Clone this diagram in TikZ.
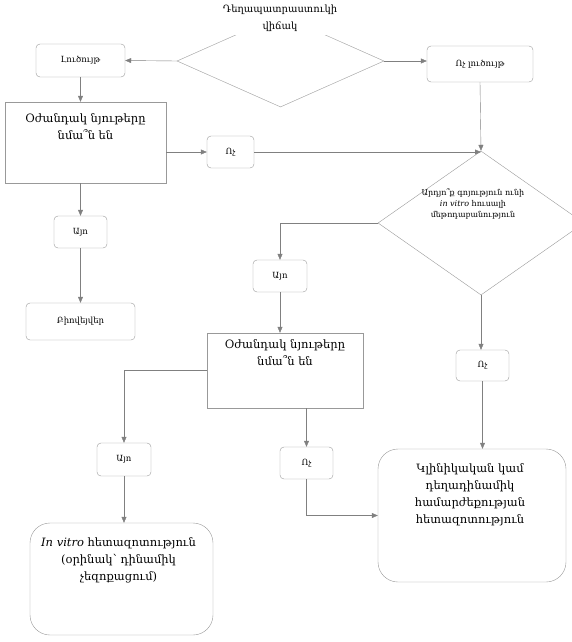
\documentclass[tikz,border=0pt]{standalone}
\usepackage{fontspec}
\setmainfont{DejaVu Serif}
\usetikzlibrary{shapes.geometric,arrows.meta}
\tikzset{
    box/.style={draw=black!40,rounded corners=4pt,font=\fontsize{8.5}{10}\selectfont},
    bigbox/.style={draw=black!40,rounded corners=20pt},
    square/.style={draw=black!40},
    choice/.style={draw=black!40,diamond,inner sep=0pt},
    toptext/.style={anchor=north,align=center,font=\fontsize{11.5}{17}\selectfont},
    flow/.style={draw=black!50,-{Triangle[length=6pt,width=5pt]}},
}

\begin{document}
\begin{tikzpicture}[x=1pt,y=-1pt]
            \useasboundingbox (0,0) rectangle (571,642);
            % first question
            \node[choice,minimum width=207pt,minimum height=92pt] (state) at (280.5,61) {};
            \node[fill=white,align=center,font=\fontsize{10}{17}\selectfont] (statetext) at (280,18) {Դեղապատրաստուկի\\վիճակ};
            \node[box,minimum width=89pt,minimum height=33pt] (sol) at (80.5,60.5) {Լուծույթ};
            \node[box,minimum width=106pt,minimum height=36pt] (nosol) at (480,64) {Ոչ լուծույթ};
            % solution branch
            \node[square,minimum width=161pt,minimum height=81pt,
                label={[toptext,yshift=-8pt]north:Օժանդակ նյութերը\\նմա՞ն են}] (excA) at (85.5,142.5) {};
            \node[box,minimum width=47pt,minimum height=32pt] (noA) at (230.5,152) {Ոչ};
            \node[box,minimum width=53pt,minimum height=32pt] (yesA) at (80.5,232) {Այո};
            \node[box,minimum width=109pt,minimum height=37pt] (bio) at (80.5,321.5) {Բիովեյվեր};
            % second question
            \node[choice,minimum width=206pt,minimum height=144pt,
                label={[align=center,font=\fontsize{8}{11}\selectfont,yshift=19pt,xshift=-8pt]center:Արդյո՞ք գոյություն ունի\\\textit{in vitro} հուսալի\\մեթոդաբանություն}] (method) at (481,223) {};
            \node[box,minimum width=54pt,minimum height=32pt] (yesB) at (280,276) {Այո};
            \node[box,minimum width=53pt,minimum height=31pt] (noB) at (482.5,365.5) {Ոչ};
            \node[square,minimum width=156pt,minimum height=75pt,
                label={[toptext,yshift=-3pt]north:Օժանդակ նյութերը\\նմա՞ն են}] (excB) at (285,370.5) {};
            \node[box,minimum width=54pt,minimum height=33pt] (yesC) at (124,459.5) {Այո};
            \node[box,minimum width=53pt,minimum height=32pt] (noC) at (306.5,463) {Ոչ};
            % end points
            \node[bigbox,minimum width=188pt,minimum height=133pt,
                label={[toptext,yshift=-11pt,xshift=-2pt]north:Կլինիկական կամ\\դեղադինամիկ\\համարժեքության\\հետազոտություն}] (clin) at (472,515.5) {};
            \node[bigbox,minimum width=183pt,minimum height=112pt,
                label={[toptext,yshift=-11pt,xshift=-3pt]north:\textit{In vitro} հետազոտություն\\(օրինակ՝ դինամիկ\\չեզոքացում)}] (vitro) at (121.5,579) {};
            % arrows
            \draw[flow] (state.west) -- (sol.east);
            \draw[flow] (state.east) -- (state.east -| nosol.west);
            \draw[flow] (sol.south) -- (sol.south |- excA.north);
            \draw[flow] (noA.west -| excA.east) -- (noA.west);
            \draw[flow] (noA.east) -- (noA.east -| method.north);
            \draw[flow] (nosol.south) -- (method.north);
            \draw[flow] (excA.south -| yesA.north) -- (yesA.north);
            \draw[flow] (yesA.south) -- (bio.north);
            \draw[flow] (method.west) -| (yesB.north);
            \draw[flow] (yesB.south) -- (yesB.south |- excB.north);
            \draw[flow] (method.south) -- (method.south |- noB.north);
            \draw[flow] (noB.south) -- (noB.south |- clin.north);
            \draw[flow] (excB.west) -| (yesC.north);
            \draw[flow] (yesC.south) -- (yesC.south |- vitro.north);
            \draw[flow] (noC.north |- excB.south) -- (noC.north);
            \draw[flow] (noC.south) |- (clin.west);
        \end{tikzpicture}
\end{document}
